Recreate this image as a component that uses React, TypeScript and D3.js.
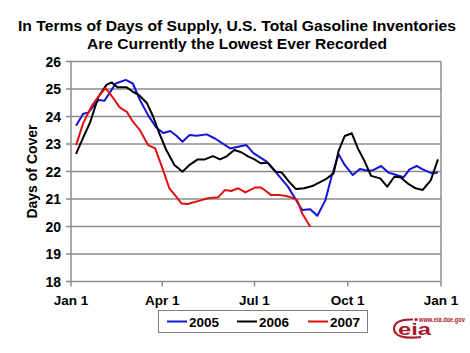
import React from "react";
import * as d3 from "d3";

const title1 = "In Terms of Days of Supply, U.S. Total Gasoline Inventories";
const title2 = "Are Currently the Lowest Ever Recorded";
const yTicks = [18, 19, 20, 21, 22, 23, 24, 25, 26];
const xTickDays = [0, 90, 181, 273, 365];
const xTickLabels = ["Jan 1", "Apr 1", "Jul 1", "Oct 1", "Jan 1"];

const days2005 = [5, 12, 17, 27, 33, 38, 44, 54, 61, 68, 76, 84, 91, 98, 104, 110, 117, 124, 134, 142, 157, 173, 180, 193, 203, 214, 228, 236, 243, 251, 257, 264, 270, 278, 285, 293, 298, 306, 313, 321, 328, 334, 341, 347, 356, 362];
const vals2005 = [23.66, 24.1, 24.14, 24.6, 24.57, 24.85, 25.2, 25.33, 25.2, 24.6, 24.05, 23.6, 23.4, 23.47, 23.3, 23.08, 23.33, 23.3, 23.35, 23.2, 22.84, 22.96, 22.67, 22.36, 21.93, 21.45, 20.6, 20.63, 20.39, 20.96, 21.81, 22.63, 22.24, 21.87, 22.09, 22.03, 22.05, 22.2, 21.96, 21.87, 21.79, 22.08, 22.2, 22.08, 21.93, 21.96];

const days2006 = [5, 11, 19, 27, 35, 40, 46, 55, 61, 67, 75, 81, 87, 94, 102, 110, 117, 125, 132, 140, 147, 154, 161, 168, 175, 181, 187, 194, 202, 208, 215, 222, 230, 238, 251, 259, 264, 270, 277, 283, 289, 296, 305, 312, 319, 325, 332, 340, 347, 355, 362];
const vals2006 = [22.64, 23.15, 23.8, 24.72, 25.15, 25.24, 25.06, 25.06, 24.9, 24.78, 24.48, 24.0, 23.4, 22.78, 22.24, 21.99, 22.24, 22.44, 22.44, 22.56, 22.44, 22.56, 22.78, 22.7, 22.54, 22.44, 22.3, 22.32, 21.99, 21.96, 21.63, 21.36, 21.39, 21.47, 21.71, 21.93, 22.75, 23.29, 23.39, 22.84, 22.42, 21.84, 21.75, 21.45, 21.81, 21.79, 21.57, 21.39, 21.33, 21.69, 22.44];

const days2007 = [5, 12, 20, 27, 34, 38, 43, 48, 55, 60, 68, 76, 83, 89, 97, 104, 109, 115, 127, 135, 145, 152, 158, 165, 172, 177, 182, 187, 192, 197, 205, 212, 218, 223, 228, 236];
const vals2007 = [22.96, 23.75, 24.36, 24.72, 25.03, 24.85, 24.6, 24.33, 24.17, 23.87, 23.5, 22.96, 22.84, 22.24, 21.39, 21.08, 20.84, 20.82, 20.94, 21.03, 21.06, 21.33, 21.29, 21.39, 21.24, 21.33, 21.42, 21.42, 21.3, 21.15, 21.15, 21.11, 21.05, 20.96, 20.48, 19.99];

const seriesNames = ["2005", "2006", "2007"];
const seriesColors = ["#1414d4", "#000000", "#e01010"];

export default function App() {
  const W = 470, H = 353;
  const left = 71, right = 441, top = 61.5, bottom = 281.5;
  const x = d3.scaleLinear().domain([0, 365]).range([left, right]);
  const y = d3.scaleLinear().domain([18, 26]).range([bottom, top]);
  const line = d3.line<[number, number]>().x(d => x(d[0])).y(d => y(d[1]));
  const data = [
    d3.zip(days2005, vals2005) as [number, number][],
    d3.zip(days2006, vals2006) as [number, number][],
    d3.zip(days2007, vals2007) as [number, number][],
  ];
  const font = "'Liberation Sans', Arial, sans-serif";
  const grid = "#8c8c8c";
  const legendX = [167, 237, 308];
  const logo = "#a81828";
  return (
    <svg width={W} height={H} style={{ position: "absolute", left: 0, top: 0 }} fontFamily={font}>
      <rect width={W} height={H} fill="#fff" />
      <text x={237} y={31} textAnchor="middle" fontSize={15} fontWeight="bold" textLength={438} lengthAdjust="spacingAndGlyphs">{title1}</text>
      <text x={237} y={49} textAnchor="middle" fontSize={15} fontWeight="bold" textLength={300} lengthAdjust="spacingAndGlyphs">{title2}</text>
      {yTicks.map(t => (
        <g key={t}>
          <line x1={left} x2={right} y1={y(t)} y2={y(t)} stroke={grid} strokeWidth={1.5} />
          <line x1={left - 5} x2={left} y1={y(t)} y2={y(t)} stroke={grid} strokeWidth={1.5} />
          <text x={61} y={y(t) + 5} textAnchor="end" fontSize={14} fontWeight="bold">{t}</text>
        </g>
      ))}
      <line x1={left} x2={left} y1={top} y2={bottom} stroke={grid} strokeWidth={1.5} />
      <line x1={right} x2={right} y1={top} y2={bottom} stroke={grid} strokeWidth={1.5} />
      {xTickDays.map((d, i) => (
        <g key={i}>
          <line x1={x(d)} x2={x(d)} y1={bottom} y2={bottom + 5} stroke={grid} strokeWidth={1.5} />
          <text x={x(d)} y={305} textAnchor="middle" fontSize={13.5} fontWeight="bold">{xTickLabels[i]}</text>
        </g>
      ))}
      <text transform={`translate(37,${(top + bottom) / 2}) rotate(-90)`} textAnchor="middle" fontSize={14} fontWeight="bold">Days of Cover</text>
      {data.map((s, i) => (
        <path key={i} d={line(s) || ""} fill="none" stroke={seriesColors[i]} strokeWidth={2} strokeLinejoin="round" />
      ))}
      <rect x={158.5} y={310.5} width={209} height={22} fill="#fff" stroke="#808080" strokeWidth={1} />
      {seriesNames.map((n, i) => (
        <g key={n}>
          <line x1={legendX[i]} x2={legendX[i] + 20} y1={321.5} y2={321.5} stroke={seriesColors[i]} strokeWidth={2} />
          <text x={legendX[i] + 22} y={326.5} fontSize={13.5} fontWeight="bold">{n}</text>
        </g>
      ))}
      <g>
        <text x={419} y={322} fontSize={6.5} fill={logo} fontWeight="bold" textLength={46} lengthAdjust="spacingAndGlyphs">www.eia.doe.gov</text>
        <circle cx={416} cy={319.5} r={1.6} fill={logo} />
        <path d="M 413 319.5 Q 394 319 394 329 Q 395 340 421 337" fill="none" stroke={logo} strokeWidth={2.2} />
        <text x={398} y={335} fontSize={17} fill={logo} fontWeight="bold" textLength={33} lengthAdjust="spacingAndGlyphs">eia</text>
      </g>
    </svg>
  );
}
